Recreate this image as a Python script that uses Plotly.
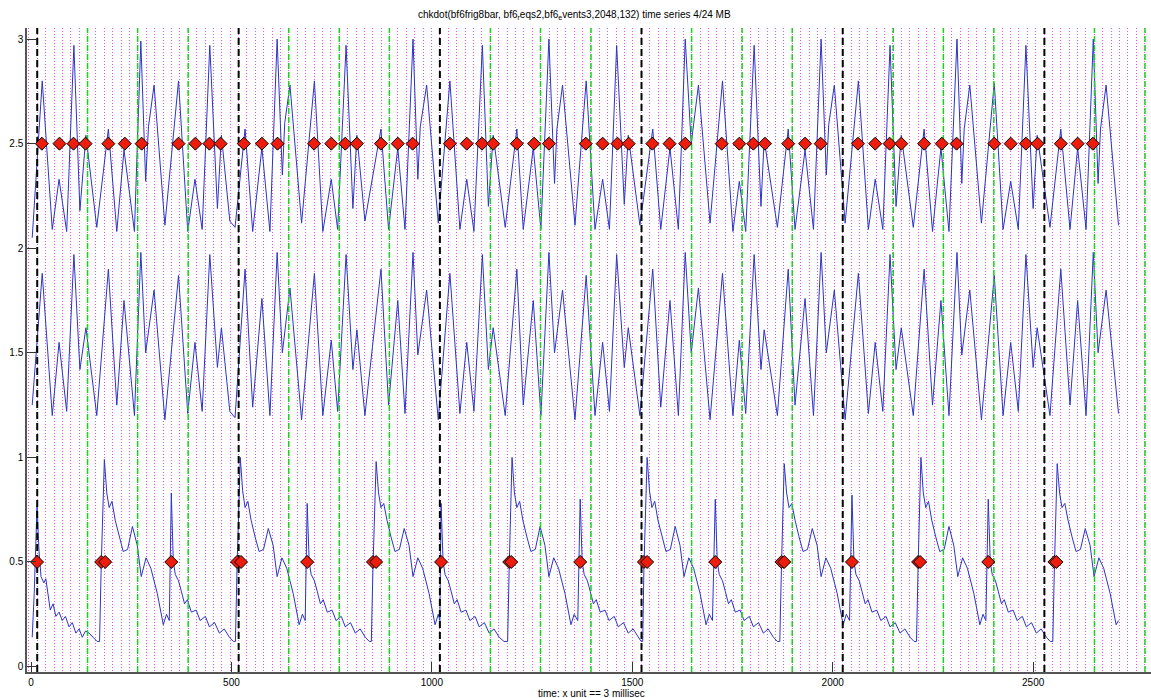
import plotly.graph_objects as go

# ---------------- data ----------------
top_x = [3, 28, 53, 70, 89, 107, 122, 137, 164, 193, 214, 232, 258, 274, 286, 293, 307, 334, 368, 391,
         409, 427, 446, 465, 475, 496, 509, 534, 553, 576, 596, 614, 627, 633, 646, 675, 707, 728, 749,
         765, 786, 803, 813, 833, 873, 892, 915, 933, 953, 965, 971, 987, 1016, 1045, 1070, 1087, 1105,
         1126, 1141, 1153, 1183, 1212, 1228, 1253, 1272, 1292, 1306, 1312, 1326, 1357, 1385, 1407,
         1426, 1443, 1461, 1480, 1490, 1519, 1551, 1571, 1594, 1615, 1632, 1647, 1665, 1694, 1725,
         1751, 1767, 1783, 1804, 1821, 1829, 1862, 1889, 1906, 1931, 1952, 1971, 1984, 1990, 2004,
         2031, 2064, 2089, 2106, 2125, 2143, 2158, 2171, 2201, 2228, 2249, 2270, 2290, 2310, 2322,
         2328, 2342, 2371, 2403, 2425, 2444, 2463, 2482, 2500, 2510, 2542, 2569, 2592, 2611, 2632,
         2650, 2662, 2668, 2682, 2713]
top_y = [2.05, 2.80, 2.09, 2.33, 2.08, 2.97, 2.18, 2.54, 2.10, 2.57, 2.08, 2.47, 2.08, 2.99, 2.32, 2.58,
         2.78, 2.11, 2.80, 2.08, 2.33, 2.09, 2.97, 2.19, 2.54, 2.13, 2.10, 2.57, 2.08, 2.48, 2.08, 3.00,
         2.35, 2.60, 2.78, 2.12, 2.80, 2.08, 2.33, 2.09, 2.97, 2.19, 2.54, 2.13, 2.57, 2.09, 2.48, 2.09,
         3.00, 2.33, 2.58, 2.78, 2.12, 2.80, 2.09, 2.33, 2.08, 2.97, 2.20, 2.54, 2.10, 2.57, 2.09, 2.48,
         2.09, 3.00, 2.31, 2.57, 2.78, 2.11, 2.80, 2.09, 2.33, 2.09, 2.97, 2.21, 2.54, 2.11, 2.57, 2.09,
         2.48, 2.09, 3.00, 2.50, 2.78, 2.12, 2.80, 2.08, 2.32, 2.08, 2.97, 2.20, 2.52, 2.10, 2.57, 2.09,
         2.47, 2.09, 3.00, 2.35, 2.59, 2.78, 2.12, 2.80, 2.09, 2.33, 2.09, 2.97, 2.20, 2.54, 2.10, 2.57,
         2.08, 2.48, 2.08, 3.00, 2.31, 2.57, 2.78, 2.12, 2.79, 2.09, 2.32, 2.09, 2.97, 2.19, 2.54, 2.10,
         2.57, 2.09, 2.48, 2.09, 3.00, 2.31, 2.57, 2.78, 2.11]

mid_x = [3, 28, 53, 70, 89, 107, 122, 137, 164, 193, 214, 232, 258, 274, 286, 307, 334, 368, 391, 409,
         427, 446, 465, 475, 496, 509, 534, 553, 576, 596, 614, 627, 646, 675, 707, 728, 749, 765, 786,
         803, 813, 833, 873, 892, 915, 933, 953, 965, 987, 1016, 1045, 1070, 1087, 1105, 1126, 1141,
         1153, 1183, 1212, 1228, 1253, 1272, 1292, 1306, 1326, 1357, 1385, 1407, 1426, 1443, 1461,
         1480, 1490, 1519, 1551, 1571, 1594, 1615, 1632, 1647, 1665, 1694, 1725, 1751, 1767, 1783,
         1804, 1821, 1829, 1862, 1889, 1906, 1931, 1952, 1971, 1984, 2004, 2031, 2064, 2089, 2106,
         2125, 2143, 2158, 2171, 2201, 2228, 2249, 2270, 2290, 2310, 2322, 2342, 2371, 2403, 2425,
         2444, 2463, 2482, 2500, 2510, 2542, 2569, 2592, 2611, 2632, 2650, 2662, 2682, 2713]
mid_y = [1.25, 1.88, 1.20, 1.55, 1.22, 1.97, 1.42, 1.62, 1.20, 1.90, 1.25, 1.75, 1.20, 1.98, 1.50, 1.80,
         1.18, 1.87, 1.21, 1.55, 1.22, 1.97, 1.43, 1.62, 1.22, 1.19, 1.90, 1.24, 1.76, 1.20, 1.98, 1.50,
         1.81, 1.18, 1.88, 1.20, 1.56, 1.22, 1.97, 1.42, 1.61, 1.20, 1.90, 1.25, 1.75, 1.21, 1.98, 1.49,
         1.80, 1.18, 1.88, 1.21, 1.55, 1.22, 1.97, 1.42, 1.62, 1.20, 1.90, 1.25, 1.75, 1.20, 1.98, 1.50,
         1.80, 1.18, 1.87, 1.20, 1.55, 1.22, 1.97, 1.43, 1.62, 1.20, 1.90, 1.24, 1.75, 1.20, 1.98, 1.50,
         1.81, 1.18, 1.88, 1.20, 1.56, 1.21, 1.97, 1.42, 1.61, 1.20, 1.90, 1.25, 1.76, 1.20, 1.98, 1.50,
         1.80, 1.18, 1.88, 1.21, 1.55, 1.22, 1.97, 1.42, 1.62, 1.20, 1.90, 1.25, 1.75, 1.20, 1.98, 1.49,
         1.80, 1.18, 1.87, 1.20, 1.55, 1.22, 1.97, 1.43, 1.62, 1.20, 1.90, 1.25, 1.75, 1.20, 1.98, 1.50,
         1.80, 1.21]

bot_x = [3, 8, 15, 20, 25, 32, 37, 43, 48, 55, 62, 70, 78, 86, 95, 103, 112, 120, 128, 136, 145, 155,
         165, 171,
         175, 183, 189, 195, 202, 210, 220, 230, 241, 253, 265, 275, 287, 299, 315, 330, 338, 345,
         350, 355, 360, 368, 375, 383, 390, 400, 412, 422, 435, 445, 458, 470, 482, 495, 505, 510,
         514, 522, 528, 534, 541, 549, 559, 569, 580, 592, 604, 614, 626, 638, 654, 669, 677, 684,
         689, 694, 699, 707, 714, 722, 729, 739, 751, 761, 774, 784, 797, 809, 821, 834, 844, 849,
         853, 861, 867, 873, 880, 888, 898, 908, 919, 931, 943, 953, 965, 977, 993, 1008, 1016, 1020,
         1023, 1028, 1033, 1041, 1048, 1056, 1063, 1073, 1085, 1095, 1108, 1118, 1131, 1143, 1155,
         1168, 1180, 1189,
         1193, 1200, 1206, 1212, 1219, 1227, 1237, 1247, 1258, 1270, 1282, 1292, 1304, 1316, 1332,
         1347, 1355, 1364,
         1370, 1375, 1380, 1388, 1395, 1403, 1410, 1420, 1432, 1442, 1455, 1465, 1478, 1490, 1502,
         1515, 1522, 1526,
         1529, 1537, 1543, 1549, 1556, 1564, 1574, 1584, 1595, 1607, 1619, 1629, 1641, 1653, 1669,
         1684, 1692, 1700,
         1707, 1712, 1717, 1725, 1732, 1740, 1747, 1757, 1769, 1779, 1792, 1802, 1815, 1827, 1839,
         1852, 1862, 1868,
         1872, 1879, 1885, 1891, 1898, 1906, 1916, 1926, 1937, 1949, 1961, 1971, 1983, 1995, 2011,
         2026, 2034, 2042,
         2048, 2053, 2058, 2066, 2073, 2081, 2088, 2098, 2110, 2120, 2133, 2143, 2156, 2168, 2180,
         2193, 2203, 2209,
         2213, 2220, 2226, 2232, 2239, 2247, 2257, 2267, 2278, 2290, 2302, 2312, 2324, 2336, 2352,
         2367, 2375, 2382,
         2388, 2393, 2398, 2406, 2413, 2421, 2428, 2438, 2450, 2460, 2473, 2483, 2496, 2508, 2520,
         2533, 2543, 2549,
         2553, 2560, 2566, 2572, 2579, 2587, 2597, 2607, 2618, 2630, 2642, 2652, 2664, 2676, 2692,
         2707, 2713]
bot_y = [0.14, 0.35, 0.77, 0.55, 0.43, 0.40, 0.42, 0.35, 0.27, 0.30, 0.24, 0.26, 0.22, 0.24, 0.19,
         0.21, 0.16, 0.18, 0.14, 0.17, 0.16, 0.14, 0.12, 0.12,
         0.47, 0.99, 0.83, 0.76, 0.79, 0.70, 0.62, 0.55, 0.56, 0.67, 0.58, 0.43, 0.52, 0.47, 0.35,
         0.20, 0.25, 0.22,
         0.83, 0.50, 0.44, 0.41, 0.36, 0.30, 0.32, 0.26, 0.27, 0.22, 0.24, 0.19, 0.21, 0.16, 0.18,
         0.14, 0.12, 0.12,
         0.48, 1.00, 0.84, 0.76, 0.79, 0.70, 0.62, 0.55, 0.56, 0.66, 0.58, 0.43, 0.52, 0.47, 0.35,
         0.20, 0.25, 0.22,
         0.78, 0.50, 0.44, 0.41, 0.36, 0.30, 0.32, 0.26, 0.27, 0.22, 0.24, 0.19, 0.21, 0.16, 0.18,
         0.14, 0.12, 0.12,
         0.47, 0.98, 0.83, 0.76, 0.78, 0.70, 0.62, 0.55, 0.56, 0.66, 0.58, 0.43, 0.52, 0.47, 0.35,
         0.20, 0.25, 0.22,
         0.78, 0.50, 0.44, 0.41, 0.36, 0.30, 0.32, 0.26, 0.27, 0.22, 0.24, 0.19, 0.21, 0.16, 0.18,
         0.14, 0.12, 0.12,
         0.48, 1.00, 0.83, 0.76, 0.79, 0.70, 0.62, 0.55, 0.56, 0.67, 0.58, 0.43, 0.52, 0.47, 0.35,
         0.20, 0.25, 0.22,
         0.80, 0.50, 0.44, 0.41, 0.36, 0.30, 0.32, 0.26, 0.27, 0.22, 0.24, 0.19, 0.21, 0.16, 0.18,
         0.14, 0.12, 0.12,
         0.47, 1.00, 0.84, 0.76, 0.79, 0.70, 0.62, 0.55, 0.56, 0.67, 0.58, 0.43, 0.52, 0.47, 0.35,
         0.20, 0.25, 0.22,
         0.80, 0.50, 0.44, 0.41, 0.36, 0.30, 0.32, 0.26, 0.27, 0.22, 0.24, 0.19, 0.21, 0.16, 0.18,
         0.14, 0.12, 0.12,
         0.47, 0.97, 0.83, 0.76, 0.78, 0.70, 0.62, 0.55, 0.56, 0.66, 0.58, 0.43, 0.52, 0.47, 0.35,
         0.20, 0.25, 0.22,
         0.82, 0.50, 0.44, 0.41, 0.36, 0.30, 0.32, 0.26, 0.27, 0.22, 0.24, 0.19, 0.21, 0.16, 0.18,
         0.14, 0.12, 0.12,
         0.48, 1.00, 0.83, 0.76, 0.79, 0.70, 0.62, 0.55, 0.56, 0.67, 0.58, 0.43, 0.52, 0.47, 0.35,
         0.20, 0.25, 0.22,
         0.80, 0.50, 0.44, 0.41, 0.36, 0.30, 0.32, 0.26, 0.27, 0.22, 0.24, 0.19, 0.21, 0.16, 0.18,
         0.14, 0.12, 0.12,
         0.47, 0.97, 0.83, 0.76, 0.78, 0.70, 0.62, 0.55, 0.56, 0.66, 0.58, 0.43, 0.52, 0.47, 0.35,
         0.20, 0.22]

top_events = [27, 71, 106, 136, 193, 234, 276, 368, 410, 445, 473, 531, 576, 615, 706, 749, 784, 813,
              873, 915, 952, 1045, 1087, 1125, 1153, 1212, 1255, 1292, 1384, 1426, 1463, 1491, 1550,
              1593, 1632, 1723, 1767, 1802, 1831, 1889, 1931, 1970, 2063, 2106, 2142, 2171, 2228,
              2272, 2309, 2403, 2444, 2482, 2511, 2569, 2611, 2649]
bot_events = [15, 175, 185, 350, 514, 524, 689, 853, 861, 1023, 1193, 1198, 1370, 1529, 1537, 1707,
              1872, 1879, 2048, 2213, 2218, 2388, 2553, 2558]

black_x = [15.5, 518, 1020, 1523, 2025, 2528]
green_x = [141, 266, 392, 643, 769, 894, 1146, 1271, 1397, 1648, 1774, 1899, 2151, 2276, 2402,
           2653, 2779]
minor_start, minor_step = 15.5, 20.93

x_ticks = [0, 500, 1000, 1500, 2000, 2500]
y_ticks = [0, 0.5, 1, 1.5, 2, 2.5, 3]
y_labels = ["0", "0.5", "1", "1.5", "2", "2.5", "3"]

Y0, Y1 = -0.026, 3.053
X0, X1 = -10, 2794


def vlines(xs):
    vx, vy = [], []
    for x in xs:
        vx += [x, x, None]
        vy += [Y0, Y1, None]
    return vx, vy


fig = go.Figure()
# helper trace for the dotted grid axis
fig.add_trace(go.Scatter(x=[None], y=[None], xaxis="x2", showlegend=False, hoverinfo="skip"))

blue = "#2a35c8"
for xs, ys in [(top_x, top_y), (mid_x, mid_y), (bot_x, bot_y)]:
    fig.add_trace(go.Scatter(x=xs, y=ys, mode="lines", line=dict(color=blue, width=1),
                             showlegend=False))

gx, gy = vlines(green_x)
fig.add_trace(go.Scatter(x=gx, y=gy, mode="lines", line=dict(color="#1ed01e", width=1.5, dash="6px,3px"),
                         showlegend=False))
bx, by = vlines(black_x)
fig.add_trace(go.Scatter(x=bx, y=by, mode="lines", line=dict(color="black", width=2, dash="7px,4px"),
                         showlegend=False))

marker = dict(symbol="diamond", size=10, color="#ee1c0c", line=dict(color="black", width=1))
fig.add_trace(go.Scatter(x=top_events, y=[2.5] * len(top_events), mode="markers", marker=marker,
                         showlegend=False))
fig.add_trace(go.Scatter(x=bot_events, y=[0.5] * len(bot_events), mode="markers", marker=marker,
                         showlegend=False))

font = dict(family="Liberation Sans, Arial, sans-serif", size=10, color="black")
fig.update_layout(
    width=1151, height=698,
    margin=dict(l=27, r=0, t=28, b=26),
    paper_bgcolor="white", plot_bgcolor="white",
    font=font,
    xaxis=dict(range=[X0, X1], tickvals=x_ticks, ticks="inside", ticklen=10, tickcolor="#333",
               showline=True, linecolor="#555", linewidth=1.5, showgrid=False, zeroline=False,
               tickfont=font),
    xaxis2=dict(overlaying="x", matches="x", range=[X0, X1], tickmode="linear", tick0=minor_start,
                dtick=minor_step, showgrid=True, gridcolor="#f050f0", griddash="1px,2px", gridwidth=1,
                showticklabels=False, ticks="", showline=False, zeroline=False),
    yaxis=dict(range=[Y0, Y1], tickvals=y_ticks, ticktext=y_labels, ticks="inside", ticklen=9,
               tickcolor="#333", showline=True, linecolor="#555", linewidth=1.5, showgrid=False,
               zeroline=False, tickfont=font),
    annotations=[
        dict(text="chkdot(bf6frig8bar, bf6<sub>r</sub>eqs2,bf6<sub>e</sub>vents3,2048,132) time series 4/24 MB",
             xref="paper", yref="paper", x=0.487, y=1.020, showarrow=False, font=font,
             xanchor="center", yanchor="middle"),
        dict(text="time: x unit == 3 millisec", xref="paper", yref="paper", x=0.502, y=-0.034,
             showarrow=False, font=font, xanchor="center", yanchor="middle"),
    ],
)

fig.write_html("out.html")
